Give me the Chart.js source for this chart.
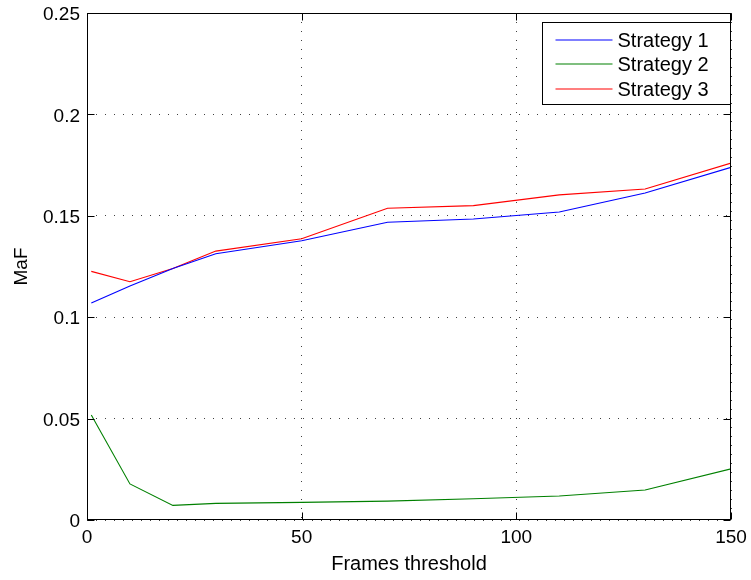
<!DOCTYPE html>
<html>
<head>
<meta charset="utf-8">
<script src="https://cdn.jsdelivr.net/npm/chart.js@4"></script>
<style>
  html, body { margin: 0; padding: 0; background: #fff; }
  #wrap { width: 751px; height: 580px; position: relative; }
</style>
</head>
<body>
<div id="wrap"><canvas id="c"></canvas></div>
<script>
// ---- data ----
const thresholds = [1, 10, 20, 30, 50, 70, 90, 110, 130, 150];
const strategy1 = [0.107, 0.1154, 0.124, 0.1313, 0.1377, 0.1468, 0.1484, 0.1519, 0.1612, 0.1739];
const strategy2 = [0.0518, 0.0178, 0.0072, 0.0082, 0.0087, 0.0093, 0.0105, 0.0118, 0.0148, 0.0252];
const strategy3 = [0.1226, 0.1175, 0.124, 0.1326, 0.1387, 0.1537, 0.155, 0.1603, 0.1632, 0.176];
const seriesNames = ['Strategy 1', 'Strategy 2', 'Strategy 3'];
const xTickValues = [0, 50, 100, 150];
const yTickValues = [0, 0.05, 0.1, 0.15, 0.2, 0.25];
const yTickLabels = ['0', '0.05', '0.1', '0.15', '0.2', '0.25'];
const xTitle = 'Frames threshold';
const yTitle = 'MaF';

const FONT = "'Liberation Sans', Arial, Helvetica, sans-serif";
const colors = ['#0000ff', '#008000', '#ff0000'];

function toPoints(ys) { return thresholds.map((x, i) => ({ x: x, y: ys[i] })); }

const framePlugin = {
  id: 'frame',
  afterDraw(chart) {
    const ctx = chart.ctx;
    const a = chart.chartArea;
    const xs = chart.scales.x, ys = chart.scales.y;
    ctx.save();
    ctx.strokeStyle = '#000';
    ctx.lineWidth = 1;
    ctx.setLineDash([]);
    const L = Math.round(a.left) + 0.5, R = Math.round(a.right) - 0.5;
    const T = Math.round(a.top) + 0.5, B = Math.round(a.bottom) - 0.5;
    ctx.strokeRect(L, T, R - L, B - T);
    const tl = 7;
    ctx.beginPath();
    xs.ticks.forEach(t => {
      const px = Math.round(xs.getPixelForValue(t.value)) + 0.5;
      ctx.moveTo(px, B); ctx.lineTo(px, B - tl);
      ctx.moveTo(px, T); ctx.lineTo(px, T + tl);
    });
    ys.ticks.forEach(t => {
      const py = Math.round(ys.getPixelForValue(t.value)) + 0.5;
      ctx.moveTo(L, py); ctx.lineTo(L + tl, py);
      ctx.moveTo(R, py); ctx.lineTo(R - tl, py);
    });
    ctx.stroke();

    // legend box
    const bw = 188, bh = 82;
    const bx = Math.round(a.right) - 1 - bw + 0.5;
    const by = Math.round(a.top) + 9 + 0.5;
    ctx.fillStyle = '#fff';
    ctx.fillRect(bx, by, bw, bh);
    ctx.strokeStyle = '#000';
    ctx.strokeRect(bx, by, bw, bh);
    ctx.font = '20px ' + FONT;
    ctx.textBaseline = 'middle';
    ctx.textAlign = 'left';
    chart.data.datasets.forEach((ds, i) => {
      const yy = Math.round(by + 17 + i * 24.5);
      ctx.beginPath();
      ctx.strokeStyle = colors[i];
      ctx.lineWidth = 1.2;
      ctx.moveTo(bx + 13, yy); ctx.lineTo(bx + 70, yy);
      ctx.stroke();
      ctx.fillStyle = '#000';
      ctx.fillText(ds.label, bx + 75, yy + 1);
    });
    ctx.restore();
  }
};

new Chart(document.getElementById('c'), {
  type: 'line',
  data: {
    datasets: [strategy1, strategy2, strategy3].map((s, i) => ({
      label: seriesNames[i],
      data: toPoints(s),
      borderColor: colors[i],
      backgroundColor: colors[i],
      borderWidth: 1.1,
      pointRadius: 0,
      tension: 0,
      fill: false
    }))
  },
  options: {
    responsive: true,
    maintainAspectRatio: false,
    animation: false,
    layout: { padding: { left: 0, right: 20, top: 13, bottom: 0 } },
    plugins: { legend: { display: false }, tooltip: { enabled: false } },
    scales: {
      x: {
        type: 'linear',
        min: 0, max: 150,
        afterBuildTicks(scale) { scale.ticks = xTickValues.map(v => ({ value: v })); },
        afterFit(scale) { scale.height = 60; scale.paddingLeft = 0; scale.paddingRight = 0; },
        ticks: { color: '#000', font: { family: FONT, size: 19 }, padding: 6, maxRotation: 0,
                 callback: v => String(v) },
        grid: { color: 'rgba(0,0,0,0.75)', lineWidth: 1, drawTicks: false, tickLength: 0 },
        border: { display: false, dash: [1, 8] },
        title: { display: true, text: xTitle, color: '#000', font: { family: FONT, size: 20 },
                 padding: { top: 0, bottom: 4 } }
      },
      y: {
        type: 'linear',
        min: 0, max: 0.25,
        afterBuildTicks(scale) { scale.ticks = yTickValues.map(v => ({ value: v })); },
        afterFit(scale) { scale.width = 87; scale.paddingTop = 0; scale.paddingBottom = 0; },
        ticks: { color: '#000', font: { family: FONT, size: 19 }, padding: 7, labelOffset: 2,
                 callback: (v) => { const i = yTickValues.findIndex(t => Math.abs(t - v) < 1e-9); return i >= 0 ? yTickLabels[i] : ''; } },
        grid: { color: 'rgba(0,0,0,0.75)', lineWidth: 1, drawTicks: false, tickLength: 0 },
        border: { display: false, dash: [1, 8] },
        title: { display: true, text: yTitle, color: '#000', font: { family: FONT, size: 19 },
                 padding: { top: 10, bottom: 0 } }
      }
    }
  },
  plugins: [framePlugin]
});
</script>
</body>
</html>
